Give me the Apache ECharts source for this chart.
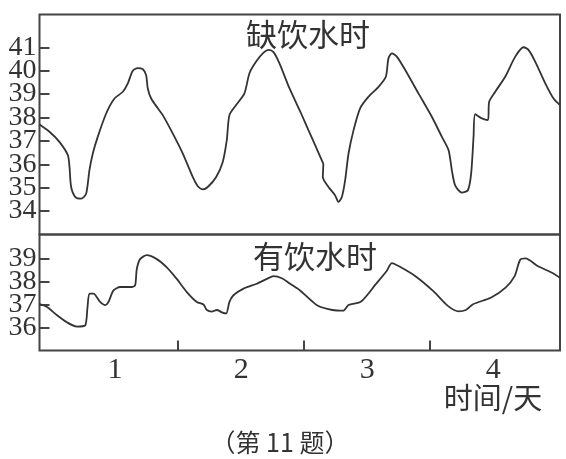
<!DOCTYPE html>
<html>
<head>
<meta charset="utf-8">
<script src="https://cdn.jsdelivr.net/npm/echarts@6/dist/echarts.min.js"></script>
<style>
html,body{margin:0;padding:0;background:#fff;}
#c{width:566px;height:459px;}
</style>
</head>
<body>
<div id="c"></div>
<script>
// ---- data ----
const panelTitles = ['缺饮水时', '有饮水时'];
const xAxisName = '时间/天';
const caption = '（第 11 题）';
const xLabelValues = [1, 2, 3, 4];
const xTickValues = [1.5, 2.5, 3.5];
const topTickValues = [34, 35, 36, 37, 38, 39, 40, 41];
const bottomTickValues = [36, 37, 38, 39];

const topDays = [0.40,0.479,0.558,0.625,0.638,0.651,0.685,0.730,0.770,0.796,0.823,0.862,0.929,0.995,1.061,1.101,1.140,1.18,1.22,1.246,1.259,1.286,1.339,1.378,1.458,1.537,1.616,1.656,1.696,1.735,1.802,1.854,1.886,1.907,1.960,2.026,2.066,2.119,2.172,2.219,2.257,2.304,2.384,2.476,2.534,2.64,2.652,2.648,2.693,2.746,2.772,2.799,2.825,2.852,2.892,2.944,3.011,3.09,3.148,3.169,3.196,3.235,3.302,3.407,3.513,3.593,3.646,3.672,3.698,3.751,3.799,3.825,3.844,3.857,3.910,3.958,3.968,4.016,4.095,4.175,4.241,4.28,4.333,4.413,4.479,4.53];
const topTemps = [37.7,37.39,36.96,36.39,35.89,35.03,34.6,34.53,34.74,35.74,36.46,37.17,38.17,38.81,39.1,39.46,40.0,40.11,40.06,39.81,39.24,38.81,38.39,38.1,37.31,36.46,35.46,35.06,34.93,35.03,35.46,36.1,37.03,38.1,38.53,39.03,39.89,40.39,40.74,40.89,40.79,40.31,39.24,38.17,37.46,36.17,36.0,35.46,35.03,34.67,34.39,34.6,35.31,36.46,37.46,38.39,38.89,39.31,39.74,40.53,40.74,40.6,40.03,39.03,38.03,37.17,36.6,35.74,35.1,34.79,34.89,35.6,37.17,38.14,37.96,37.89,38.67,39.1,39.74,40.6,41.0,40.89,40.39,39.46,38.81,38.53];

const bottomDays = [0.40,0.457,0.537,0.616,0.696,0.762,0.780,0.796,0.828,0.881,0.921,0.947,0.987,1.040,1.132,1.159,1.172,1.198,1.251,1.331,1.410,1.489,1.569,1.648,1.701,1.728,1.767,1.807,1.847,1.881,1.907,1.939,2.019,2.124,2.204,2.257,2.323,2.389,2.468,2.609,2.724,2.81,2.852,2.952,3.067,3.153,3.196,3.253,3.383,3.525,3.64,3.726,3.783,3.84,3.984,4.098,4.17,4.214,4.256,4.356,4.471,4.53];
const bottomTemps = [37.01,36.9,36.54,36.23,36.04,36.09,36.83,37.47,37.47,37.11,36.97,37.11,37.61,37.76,37.76,37.83,38.54,38.97,39.14,38.97,38.61,38.11,37.54,37.11,37.0,36.76,36.69,36.76,36.66,36.61,37.11,37.4,37.69,37.9,38.11,38.23,38.14,37.9,37.61,36.94,36.76,36.73,36.98,37.13,37.87,38.44,38.8,38.66,38.23,37.58,36.94,36.7,36.76,37.01,37.3,37.73,38.23,38.94,39.0,38.66,38.37,38.16];

// ---- chart ----
const pair = (xs, ys) => xs.map((x, i) => [x, ys[i]]);
const ink = '#333';
const frame = '#444';
const serif = '"Liberation Serif", "DejaVu Serif", serif';
const cjk = '"Noto Sans CJK SC", sans-serif';
const X_MIN = 0.40, X_MAX = 4.53;

const TOP_MIN = 33, TOP_MAX = 42.4, TOP_Y = 14.5, TOP_H = 220;
const BOT_MIN = 35, BOT_MAX = 40.04, BOT_Y = 234.5, BOT_H = 116;
const topPx = TOP_H / (TOP_MAX - TOP_MIN);
const botPx = BOT_H / (BOT_MAX - BOT_MIN);
const tMin = topTickValues[0], tMax = topTickValues[topTickValues.length - 1];
const bMin = bottomTickValues[0], bMax = bottomTickValues[bottomTickValues.length - 1];

// labels on the main axes (integers filtered by formatter)
const yLabel = (vals) => ({margin: 3, color: ink, fontFamily: serif, fontSize: 28, lineHeight: 18,
  hideOverlap: false, showMinLabel: true, showMaxLabel: true,
  formatter: (v) => (vals.indexOf(Math.round(v)) >= 0 && Math.abs(v - Math.round(v)) < 1e-6) ? String(Math.round(v)) : ''});
// ticks on helper axes whose extent equals the tick range
const tickOnly = () => ({show: true, inside: true, length: 10, lineStyle: {color: frame, width: 2}});

const chart = echarts.init(document.getElementById('c'), null, {renderer: 'canvas'});
chart.setOption({
  animation: false,
  backgroundColor: '#fff',
  grid: [
    {left: 39.5, right: 6, top: TOP_Y, height: TOP_H, show: true, borderColor: frame, borderWidth: 2},
    {left: 39.5, right: 6, top: BOT_Y, height: BOT_H, show: true, borderColor: frame, borderWidth: 2},
    {left: 39.5, right: 6, top: TOP_Y + (TOP_MAX - tMax) * topPx, height: (tMax - tMin) * topPx, show: false},
    {left: 39.5, right: 6, top: BOT_Y + (BOT_MAX - bMax) * botPx, height: (bMax - bMin) * botPx, show: false}
  ],
  xAxis: [
    {gridIndex: 0, type: 'value', min: X_MIN, max: X_MAX, show: false},
    {gridIndex: 1, type: 'value', min: X_MIN, max: X_MAX,
     axisLine: {show: false}, splitLine: {show: false},
     axisTick: {show: true, inside: true, length: 10, customValues: xTickValues, lineStyle: {color: frame, width: 2}},
     axisLabel: {customValues: xLabelValues, margin: 5, color: ink, fontFamily: serif, fontSize: 30,
       hideOverlap: false, showMinLabel: true, showMaxLabel: true}},
    {gridIndex: 2, type: 'value', min: X_MIN, max: X_MAX, show: false},
    {gridIndex: 3, type: 'value', min: X_MIN, max: X_MAX, show: false}
  ],
  yAxis: [
    {gridIndex: 0, type: 'value', min: TOP_MIN, max: TOP_MAX, interval: 1,
     axisLine: {show: false}, splitLine: {show: false}, axisTick: {show: false}, axisLabel: yLabel(topTickValues)},
    {gridIndex: 1, type: 'value', min: BOT_MIN, max: BOT_MAX, interval: 1,
     axisLine: {show: false}, splitLine: {show: false}, axisTick: {show: false}, axisLabel: yLabel(bottomTickValues)},
    {gridIndex: 2, type: 'value', min: tMin, max: tMax, interval: 1,
     axisLine: {show: false}, splitLine: {show: false}, axisTick: tickOnly(), axisLabel: {show: false}},
    {gridIndex: 3, type: 'value', min: bMin, max: bMax, interval: 1,
     axisLine: {show: false}, splitLine: {show: false}, axisTick: tickOnly(), axisLabel: {show: false}}
  ],
  series: [
    {type: 'line', xAxisIndex: 0, yAxisIndex: 0, data: pair(topDays, topTemps),
     smooth: 0.25, showSymbol: false, lineStyle: {color: ink, width: 1.8}},
    {type: 'line', xAxisIndex: 1, yAxisIndex: 1, data: pair(bottomDays, bottomTemps),
     smooth: 0.25, showSymbol: false, lineStyle: {color: ink, width: 1.8}}
  ],
  graphic: [
    {type: 'text', x: 308, y: 34, style: {text: panelTitles[0], fill: ink, font: '31px ' + cjk, align: 'center', verticalAlign: 'middle'}},
    {type: 'text', x: 315, y: 256, style: {text: panelTitles[1], fill: ink, font: '31px ' + cjk, align: 'center', verticalAlign: 'middle'}},
    {type: 'text', x: 493, y: 398, style: {text: xAxisName, fill: ink, font: '29px ' + cjk, align: 'center', verticalAlign: 'middle'}},
    {type: 'text', x: 280, y: 442, style: {text: caption, fill: ink, font: '25px ' + cjk, align: 'center', verticalAlign: 'middle'}}
  ]
});
</script>
</body>
</html>
